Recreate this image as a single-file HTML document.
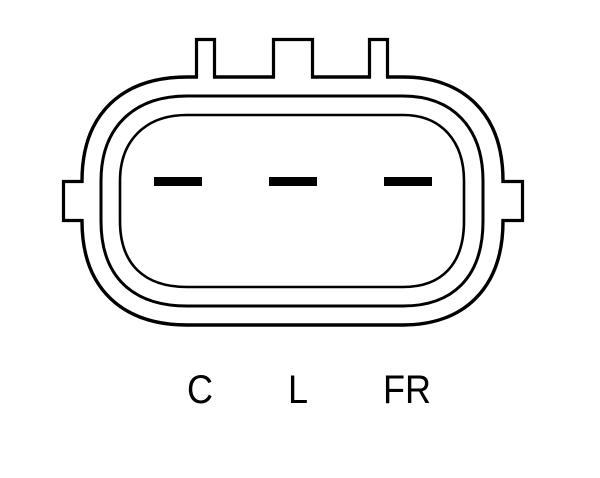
<!DOCTYPE html>
<html><head><style>html,body{margin:0;padding:0;background:#fff;}svg{display:block}</style></head>
<body>
<svg width="600" height="478" viewBox="0 0 600 478" xmlns="http://www.w3.org/2000/svg">
<g fill="none" stroke="#000">
<path d="M187,77 H403 C462,77 503,112 503,181 V221 C503,290 462,325 403,325 H187 C124,325 82,290 82,221 V181 C82,112 124,77 187,77 Z" stroke-width="3.4"/>
<path d="M187,96 H403 C452,96 483,127 483,181 V221 C483,278 452,306 403,306 H187 C134,306 101,278 101,221 V181 C101,127 134,96 187,96 Z" stroke-width="3"/>
<path d="M187,115 H403 C442,115 464,142 464,181 V221 C464,264 442,287 403,287 H187 C144,287 120,264 120,221 V181 C120,142 144,115 187,115 Z" stroke-width="2.6"/>
</g>
<g fill="#fff" stroke="none">
<rect x="198" y="70" width="15" height="10"/>
<rect x="275" y="70" width="36" height="10"/>
<rect x="371" y="70" width="15" height="10"/>
<rect x="75" y="183" width="10" height="36"/>
<rect x="500" y="183" width="10" height="36"/>
</g>
<g fill="none" stroke="#000" stroke-width="3.2">
<polyline points="196.5,78 196.5,39.5 214.5,39.5 214.5,78"/>
<polyline points="273.5,78 273.5,39.5 312.5,39.5 312.5,78"/>
<polyline points="369.5,78 369.5,39.5 387.5,39.5 387.5,78"/>
<polyline points="83,181.5 63.5,181.5 63.5,220.5 83,220.5"/>
<polyline points="502,181.5 522.5,181.5 522.5,220.5 502,220.5"/>
</g>
<g fill="#000">
<rect x="154" y="177" width="48" height="9"/>
<rect x="269" y="177" width="48" height="9"/>
<rect x="384" y="177" width="48" height="9"/>
</g>
<g font-family="Liberation Sans, sans-serif" font-size="40" text-anchor="middle" fill="#000">
<text x="200" y="403" transform="translate(200 0) scale(0.9 1) translate(-200 0)">C</text>
<text x="298" y="403" transform="translate(298 0) scale(0.9 1) translate(-298 0)">L</text>
<text x="407" y="403" transform="translate(407 0) scale(0.9 1) translate(-407 0)">FR</text>
</g>
</svg>
</body></html>
